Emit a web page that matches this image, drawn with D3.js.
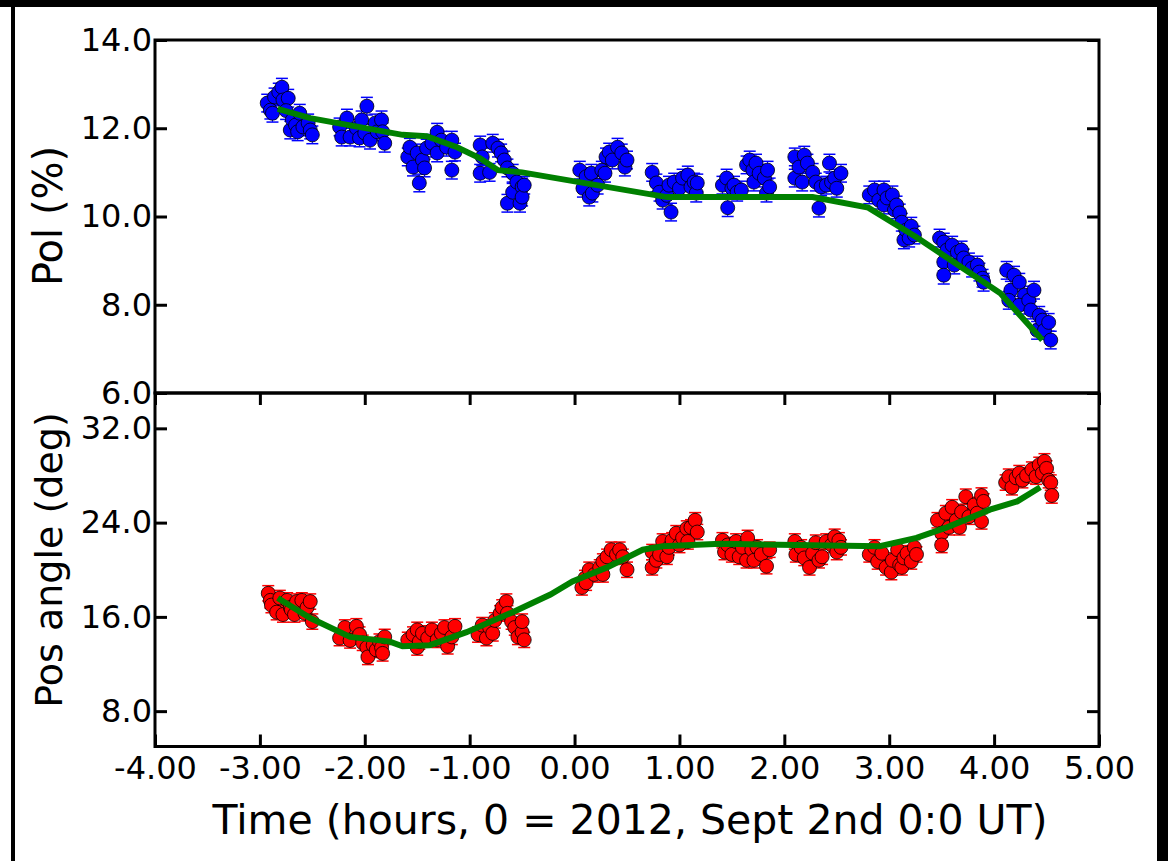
<!DOCTYPE html>
<html>
<head>
<meta charset="utf-8">
<script src="https://cdn.jsdelivr.net/npm/d3@7"></script>
<style>
  body { margin: 0; background: #fff; }
  svg text { font-family: "DejaVu Sans", sans-serif; fill: #000; }
</style>
</head>
<body>
<svg width="1168" height="861"></svg>
<script>

// polarisation observations [time (hours), pol (%)]
var polObs = [
  [-2.93,12.57],[-2.90,12.41],[-2.88,12.34],[-2.86,12.71],[-2.82,12.82],[-2.79,12.93],[-2.78,12.64],[-2.73,12.68],[-2.75,12.40],
  [-2.71,11.96],[-2.69,12.19],[-2.66,12.07],[-2.64,11.92],[-2.62,12.34],[-2.59,12.03],[-2.54,12.12],[-2.52,11.96],[-2.50,11.85],
  [-2.24,12.03],[-2.22,11.80],[-2.17,12.23],[-2.14,11.80],[-2.08,12.00],[-2.05,11.78],[-2.03,12.19],[-2.00,11.89],[-1.98,12.50],
  [-1.95,11.73],[-1.90,12.12],[-1.88,11.92],[-1.84,12.19],[-1.83,11.92],[-1.81,11.66],
  [-1.59,11.35],[-1.57,11.57],[-1.54,11.12],[-1.50,11.44],[-1.48,10.76],[-1.45,11.28],[-1.43,11.10],[-1.41,11.55],[-1.36,11.66],
  [-1.31,11.91],[-1.31,11.44],[-1.27,11.73],[-1.22,11.57],[-1.17,11.73],[-1.17,11.05],[-1.14,11.46],
  [-0.90,11.62],[-0.88,11.35],[-0.90,10.98],[-0.81,11.00],[-0.78,11.66],[-0.73,11.55],[-0.70,11.44],[-0.67,11.28],[-0.64,11.10],
  [-0.64,10.30],[-0.59,10.98],[-0.59,10.55],[-0.55,10.78],[-0.52,10.30],[-0.50,10.67],[-0.50,10.44],[-0.48,10.71],
  [0.05,11.05],[0.08,10.64],[0.11,10.90],[0.14,10.44],[0.16,10.98],[0.17,10.53],[0.22,10.71],[0.26,11.05],[0.29,10.98],
  [0.30,11.35],[0.33,11.46],[0.36,11.28],[0.41,11.57],[0.45,11.44],[0.48,11.12],[0.50,11.28],
  [0.74,11.00],[0.78,10.76],[0.81,10.55],[0.84,10.37],[0.88,10.48],[0.90,10.71],[0.92,10.10],[0.95,10.78],[1.00,10.64],
  [1.03,10.87],[1.08,10.94],[1.11,10.67],[1.14,10.78],[1.16,10.53],[1.17,10.76],
  [1.41,10.71],[1.45,10.87],[1.46,10.20],[1.50,10.64],[1.52,10.71],[1.55,10.55],[1.59,10.60],[1.64,11.17],[1.67,11.28],
  [1.70,11.05],[1.71,10.78],[1.73,11.21],[1.76,10.98],[1.81,10.87],[1.83,10.53],[1.84,11.05],[1.86,10.67],
  [2.10,11.35],[2.10,10.87],[2.14,11.12],[2.17,10.78],[2.19,11.39],[2.22,11.21],[2.27,11.00],[2.30,10.78],[2.33,10.19],
  [2.35,10.67],[2.40,10.71],[2.43,11.21],[2.45,10.78],[2.48,10.87],[2.50,10.64],[2.54,10.98],
  [2.81,10.49],[2.86,10.60],[2.90,10.37],[2.95,10.60],[2.95,10.26],[2.98,10.42],[3.03,10.49],[3.05,10.15],[3.07,10.26],
  [3.10,10.08],[3.12,9.87],[3.14,9.47],[3.16,9.69],[3.19,9.51],[3.21,9.78],[3.24,9.58],
  [3.48,9.51],[3.52,9.42],[3.55,9.24],[3.52,8.97],[3.52,8.67],[3.60,9.35],[3.62,8.90],[3.65,9.19],[3.69,9.24],
  [3.71,9.06],[3.76,8.97],[3.79,8.83],[3.84,8.90],[3.86,8.74],[3.89,8.60],[3.90,8.51],
  [4.12,8.78],[4.19,8.67],[4.16,8.33],[4.14,8.10],[4.24,8.51],[4.29,8.22],[4.24,7.99],[4.33,8.10],[4.35,7.88],
  [4.38,8.33],[4.41,7.42],[4.43,7.76],[4.46,7.65],[4.48,7.42],[4.52,7.60],[4.54,7.20]
]

// position angle observations [time (hours), angle (deg)]
var paObs = [
  [-2.92,18.0],[-2.90,17.4],[-2.89,17.0],[-2.84,16.4],[-2.81,17.6],[-2.78,16.2],[-2.74,17.4],[-2.71,16.8],[-2.70,16.6],
  [-2.67,16.2],[-2.65,17.3],[-2.60,17.4],[-2.57,16.3],[-2.55,16.8],[-2.52,17.3],[-2.50,15.6],
  [-2.24,14.2],[-2.19,15.1],[-2.14,14.0],[-2.08,15.2],[-2.05,14.5],[-2.02,13.8],[-1.98,13.4],[-1.97,12.6],[-1.92,13.6],
  [-1.89,13.2],[-1.86,13.9],[-1.84,13.4],[-1.83,12.9],[-1.81,14.3],
  [-1.59,14.05],[-1.54,14.5],[-1.50,14.9],[-1.50,13.4],[-1.48,13.9],[-1.45,14.6],[-1.40,14.2],[-1.36,14.9],[-1.31,14.05],
  [-1.27,14.6],[-1.24,15.1],[-1.21,13.5],[-1.17,14.3],[-1.14,15.2],
  [-0.92,14.5],[-0.88,15.3],[-0.84,14.2],[-0.81,15.1],[-0.78,14.6],[-0.76,15.7],[-0.71,16.3],[-0.69,16.8],[-0.65,17.3],
  [-0.64,16.3],[-0.60,15.6],[-0.57,15.1],[-0.54,14.3],[-0.50,14.7],[-0.50,15.6],[-0.48,14.05],
  [0.07,18.5],[0.10,19.3],[0.11,18.9],[0.14,20.0],[0.19,19.6],[0.24,20.2],[0.27,20.7],[0.27,19.6],[0.31,21.1],
  [0.35,21.7],[0.40,21.3],[0.43,21.7],[0.46,21.1],[0.50,20.0],
  [0.74,21.5],[0.74,20.2],[0.78,20.8],[0.81,21.3],[0.84,22.4],[0.88,21.1],[0.90,21.9],[0.93,22.5],[0.97,23.1],
  [1.00,22.1],[1.03,22.7],[1.07,23.5],[1.08,22.4],[1.11,23.6],[1.15,24.2],[1.17,23.2],
  [1.41,22.5],[1.43,21.5],[1.46,22.1],[1.50,21.3],[1.54,22.4],[1.57,21.1],[1.60,21.9],[1.64,20.8],[1.65,22.7],
  [1.69,21.7],[1.71,20.8],[1.74,21.9],[1.78,21.3],[1.83,20.3],[1.86,21.7],
  [2.10,22.4],[2.11,21.3],[2.16,21.9],[2.19,21.0],[2.24,20.2],[2.27,21.4],[2.30,22.3],[2.33,20.8],[2.36,21.1],
  [2.40,22.4],[2.45,22.1],[2.48,22.8],[2.50,21.5],[2.52,22.5],[2.54,21.9],
  [2.81,21.3],[2.86,21.9],[2.89,20.7],[2.93,21.4],[2.97,20.2],[3.02,19.8],[3.03,20.8],[3.08,21.7],[3.10,20.4],
  [3.12,20.2],[3.14,21.0],[3.17,21.4],[3.21,20.7],[3.24,21.9],[3.26,21.3],
  [3.46,24.2],[3.50,23.1],[3.50,22.1],[3.54,24.8],[3.57,23.6],[3.60,25.3],[3.64,24.2],[3.67,23.6],[3.69,24.9],
  [3.73,26.2],[3.76,24.5],[3.81,25.5],[3.84,24.8],[3.88,26.3],[3.88,24.1],[3.90,25.8],
  [4.11,27.4],[4.14,27.9],[4.17,27.0],[4.21,27.8],[4.24,28.2],[4.27,27.6],[4.31,28.0],[4.36,28.5],[4.40,27.9],
  [4.43,28.9],[4.46,28.2],[4.48,29.2],[4.50,28.6],[4.52,27.6],[4.54,27.4],[4.55,26.3]
]

// fitted curves
var polFit = [[-2.83,12.44],[-2.52,12.23],[-1.64,11.85],[-1.41,11.82],[-1.12,11.57],[-0.90,11.32],[-0.73,11.05],
  [-0.50,11.00],[0.88,10.44],[2.27,10.44],[2.80,10.20],[3.26,9.53],[4.06,8.26],[4.46,7.20]]
var paFit = [[-2.83,17.6],[-2.52,15.9],[-2.14,14.3],[-1.76,13.9],[-1.64,13.5],[-1.38,13.6],[-1.03,14.7],[-0.59,16.4],
  [-0.23,17.9],[-0.02,19.0],[0.31,20.2],[0.65,21.7],[0.84,22.0],[1.39,22.2],[2.91,22.0],[3.26,22.7],[3.55,23.6],
  [3.96,25.1],[4.22,25.8],[4.44,27.0]]

var polErr = 0.2
var paErr = 0.65

var xTicks = [-4, -3, -2, -1, 0, 1, 2, 3, 4, 5]
var polTicks = [6, 8, 10, 12, 14]
var paTicks = [8, 16, 24, 32]

var svg = d3.select("svg")

// page frame (black bands round the figure)
svg.append("rect").attr("x", 0).attr("y", 0).attr("width", 1168).attr("height", 7).style("fill", "#000")
svg.append("rect").attr("x", 11).attr("y", 0).attr("width", 4).attr("height", 861).style("fill", "#000")
svg.append("rect").attr("x", 1157).attr("y", 0).attr("width", 11).attr("height", 861).style("fill", "#000")

var left = 155, right = 1099
var x = d3.scaleLinear().domain([-4, 5]).range([left, right])
var yPol = d3.scaleLinear().domain([6, 14]).range([393, 40])
var yPa = d3.scaleLinear().domain([5, 35]).range([746.5, 393])

var loc = d3.formatLocale({decimal: ".", thousands: ",", grouping: [3], currency: ["", ""], minus: "-"})

function panel(y, ticks, fmt, obs, fit, err, color, showX) {
  var g = svg.append("g")
  var top = y.range()[1], bottom = y.range()[0]

  // error bars
  var eb = g.append("g")
  eb.selectAll("line.bar").data(obs).enter().append("line")
    .attr("x1", function(d){ return x(d[0]); })
    .attr("x2", function(d){ return x(d[0]); })
    .attr("y1", function(d){ return y(d[1] - err); })
    .attr("y2", function(d){ return y(d[1] + err); })
    .style("stroke", color).style("stroke-width", 1)
  ;[-1, 1].forEach(function(s){
    eb.selectAll("line.cap" + s).data(obs).enter().append("line")
      .attr("x1", function(d){ return x(d[0]) - 6; })
      .attr("x2", function(d){ return x(d[0]) + 6; })
      .attr("y1", function(d){ return y(d[1] + s * err); })
      .attr("y2", function(d){ return y(d[1] + s * err); })
      .style("stroke", color).style("stroke-width", 1.5)
  })

  // markers
  g.selectAll("circle").data(obs).enter().append("circle")
    .attr("cx", function(d){ return x(d[0]); })
    .attr("cy", function(d){ return y(d[1]); })
    .attr("r", 7)
    .style("fill", color)
    .style("stroke", "#000")
    .style("stroke-width", 0.8)

  // fit line
  g.append("path").datum(fit)
    .attr("d", d3.line().x(function(d){ return x(d[0]); }).y(function(d){ return y(d[1]); }))
    .style("fill", "none")
    .style("stroke", "#008000")
    .style("stroke-width", 6)

  // axes, ticks pointing inward
  var ya = g.append("g").attr("transform", "translate(" + left + ",0)")
    .call(d3.axisLeft(y).tickValues(ticks).tickFormat(fmt).tickSizeInner(-12).tickSizeOuter(0).tickPadding(3))
  g.append("g").attr("transform", "translate(" + right + ",0)")
    .call(d3.axisRight(y).tickValues(ticks).tickFormat("").tickSizeInner(-12).tickSizeOuter(0))
  ya.selectAll("text").style("font-size", "32px")

  if (showX) {
    var xb = g.append("g").attr("transform", "translate(0," + bottom + ")")
      .call(d3.axisBottom(x).tickValues(xTicks).tickFormat(loc.format(".2f")).tickSizeInner(-12).tickSizeOuter(0).tickPadding(10))
    g.append("g").attr("transform", "translate(0," + top + ")")
      .call(d3.axisTop(x).tickValues(xTicks).tickFormat("").tickSizeInner(-12).tickSizeOuter(0))
    xb.selectAll("text").style("font-size", "32px")
  }

  g.selectAll(".domain").remove()
  g.selectAll(".tick line").style("stroke", "#000").style("stroke-width", 3)
  g.selectAll(".tick text").style("fill", "#000").attr("font-family", null)

  // spines
  g.append("rect").attr("x", left).attr("y", top).attr("width", right - left).attr("height", bottom - top)
    .style("fill", "none").style("stroke", "#000").style("stroke-width", 3)
}

panel(yPol, polTicks, loc.format(".1f"), polObs, polFit, polErr, "#0000ff", false)
panel(yPa, paTicks, loc.format(".1f"), paObs, paFit, paErr, "#ff0000", true)

// axis labels
svg.append("text").attr("transform", "translate(62,216) rotate(-90)")
  .attr("text-anchor", "middle").style("font-size", "40px").text("Pol (%)")
svg.append("text").attr("transform", "translate(62,560) rotate(-90)")
  .attr("text-anchor", "middle").style("font-size", "38px").text("Pos angle (deg)")
svg.append("text").attr("x", 630).attr("y", 834)
  .attr("text-anchor", "middle").style("font-size", "41px").text("Time (hours, 0 = 2012, Sept 2nd 0:0 UT)")

</script>
</body>
</html>
